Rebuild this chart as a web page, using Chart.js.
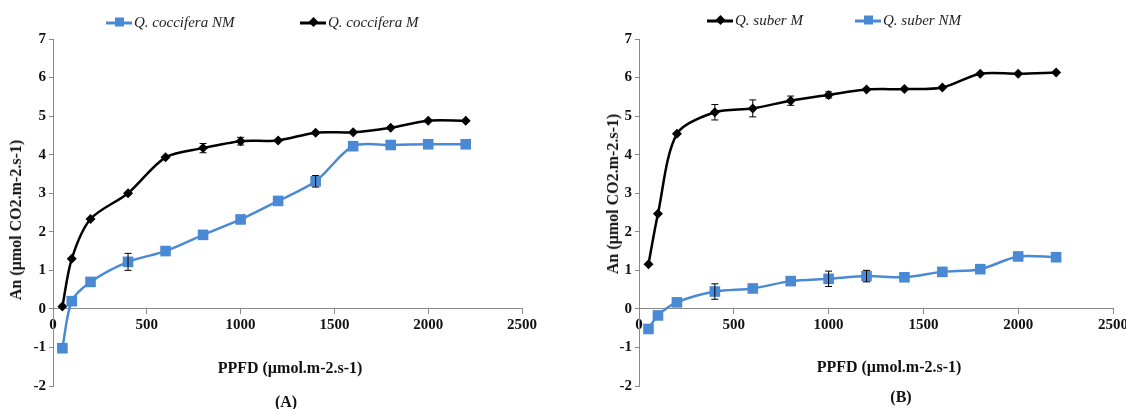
<!DOCTYPE html>
<html>
<head>
<meta charset="utf-8">
<script src="https://cdn.jsdelivr.net/npm/chart.js@4.4.1/dist/chart.umd.min.js"></script>
<style>
  html, body { margin: 0; padding: 0; background: #fff; overflow: hidden; }
  body { width: 1126px; height: 409px; position: relative; font-family: "Liberation Serif", serif; }
  .plot { position: absolute; top: 0; height: 409px; }
  #chartA { left: 0; width: 563px; }
  #chartB { left: 563px; width: 572px; }
  .txt { position: absolute; white-space: nowrap; color: #111; font-weight: bold; font-size: 16px; transform: translate(-50%, -50%); }
  .ytitle { transform: translate(-50%, -50%) rotate(-90deg); }
  .legend-item { position: absolute; display: flex; align-items: center; font-style: italic; font-size: 15px; color: #222; transform: translateY(-50%); }
  .swatch { position: relative; width: 26px; height: 12px; margin-right: 2px; }
  .swatch .ln { position: absolute; left: 0; right: 0; top: 5px; height: 3px; }
  .swatch .mk { position: absolute; left: 50%; top: 50%; }
  .mk.sq { width: 9px; height: 9px; margin: -4.5px 0 0 -4.5px; }
  .mk.dm { width: 7px; height: 7px; margin: -3.5px 0 0 -3.5px; transform: rotate(45deg); }
</style>
</head>
<body>
<div class="plot" id="chartA"><canvas id="canvasA"></canvas></div>
<div class="plot" id="chartB"><canvas id="canvasB"></canvas></div>

<div class="legend-item" style="left:106px; top:22px;"><span class="swatch"><span class="ln" style="background:#4a89d4"></span><span class="mk sq" style="background:#4a89d4"></span></span>Q. coccifera NM</div>
<div class="legend-item" style="left:300px; top:22px;"><span class="swatch"><span class="ln" style="background:#000"></span><span class="mk dm" style="background:#000"></span></span>Q. coccifera M</div>
<div class="legend-item" style="left:707px; top:20px;"><span class="swatch"><span class="ln" style="background:#000"></span><span class="mk dm" style="background:#000"></span></span>Q. suber M</div>
<div class="legend-item" style="left:855px; top:20px;"><span class="swatch"><span class="ln" style="background:#4a89d4"></span><span class="mk sq" style="background:#4a89d4"></span></span>Q. suber NM</div>

<div class="txt ytitle" style="left:16px; top:220px;">An (µmol CO2.m-2.s-1)</div>
<div class="txt ytitle" style="left:613px; top:194px;">An (µmol CO2.m-2.s-1)</div>
<div class="txt" style="left:290px; top:368px;">PPFD (µmol.m-2.s-1)</div>
<div class="txt" style="left:889px; top:367px;">PPFD (µmol.m-2.s-1)</div>
<div class="txt" style="left:286px; top:402px;">(A)</div>
<div class="txt" style="left:901px; top:397px;">(B)</div>

<script>
// PPFD levels (same for every curve)
var ppfd = [50, 100, 200, 400, 600, 800, 1000, 1200, 1400, 1600, 1800, 2000, 2200];

// (A) Q. coccifera
var coccifera_nm = [-1.02, 0.2, 0.7, 1.22, 1.5, 1.92, 2.32, 2.8, 3.31, 4.22, 4.25, 4.27, 4.27];
var coccifera_nm_err = [0, 0, 0, 0.22, 0, 0, 0, 0, 0.15, 0, 0, 0, 0];
var coccifera_m = [0.06, 1.3, 2.33, 3.0, 3.93, 4.17, 4.35, 4.37, 4.57, 4.58, 4.7, 4.88, 4.88];
var coccifera_m_err = [0, 0, 0, 0, 0, 0.12, 0.1, 0, 0, 0, 0, 0, 0];

// (B) Q. suber
var suber_m = [1.16, 2.47, 4.54, 5.1, 5.2, 5.4, 5.55, 5.69, 5.7, 5.74, 6.1, 6.1, 6.13];
var suber_m_err = [0, 0, 0, 0.2, 0.22, 0.12, 0.08, 0, 0, 0, 0, 0, 0];
var suber_nm = [-0.52, -0.17, 0.17, 0.45, 0.53, 0.72, 0.78, 0.85, 0.82, 0.96, 1.03, 1.36, 1.34];
var suber_nm_err = [0, 0, 0, 0.2, 0, 0, 0.2, 0.15, 0, 0, 0, 0, 0];

var x_ticks = [0, 500, 1000, 1500, 2000, 2500];
var y_ticks = [-2, -1, 0, 1, 2, 3, 4, 5, 6, 7];

var BLUE = "#4a89d4";
var AXIS = "#8a8a8a";

function to_points(values) {
  return ppfd.map((x, i) => ({ x: x, y: values[i] }));
}

function make_dataset(label, values, errors, kind) {
  var blue = kind === "NM";
  return {
    label: label,
    data: to_points(values),
    errors: errors,
    borderColor: blue ? BLUE : "#000",
    backgroundColor: blue ? BLUE : "#000",
    borderWidth: 2.5,
    pointStyle: blue ? "rect" : "rectRot",
    pointRadius: blue ? 7.5 : 5,
    pointBorderWidth: 0,
    tension: 0.3,
    fill: false,
    clip: false,
  };
}

// vertical error bars with caps, positioned through the chart scales
var errorBars = {
  id: "errorBars",
  afterDatasetsDraw(chart) {
    const ctx = chart.ctx;
    const xs = chart.scales.x;
    const ys = chart.scales.y;
    ctx.save();
    ctx.strokeStyle = "#000";
    ctx.lineWidth = 1;
    chart.data.datasets.forEach((ds) => {
      ds.data.forEach((p, i) => {
        const e = ds.errors[i];
        if (!e) return;
        const px = xs.getPixelForValue(p.x);
        const top = ys.getPixelForValue(p.y + e);
        const bot = ys.getPixelForValue(p.y - e);
        ctx.beginPath();
        ctx.moveTo(px, top);
        ctx.lineTo(px, bot);
        ctx.moveTo(px - 3.5, top);
        ctx.lineTo(px + 3.5, top);
        ctx.moveTo(px - 3.5, bot);
        ctx.lineTo(px + 3.5, bot);
        ctx.stroke();
      });
    });
    ctx.restore();
  },
};

function make_chart(canvas_id, datasets, pad_left, pad_right) {
  var tick_font = { family: "Liberation Serif", size: 15, weight: "bold" };
  return new Chart(document.getElementById(canvas_id), {
    type: "line",
    data: { datasets: datasets },
    options: {
      responsive: true,
      maintainAspectRatio: false,
      animation: false,
      layout: { padding: { top: 39, bottom: 23, left: pad_left, right: pad_right } },
      plugins: { legend: { display: false }, tooltip: { enabled: false } },
      scales: {
        x: {
          type: "linear",
          position: { y: 0 },
          min: 0,
          max: 2500,
          afterBuildTicks: (s) => { s.ticks = x_ticks.map((v) => ({ value: v })); },
          afterFit: (s) => { s.height = 0; },
          ticks: { font: tick_font, color: "#111", padding: 2, callback: (v) => String(v) },
          grid: { drawOnChartArea: false, drawTicks: true, tickLength: 5, color: AXIS },
          border: { color: AXIS, width: 1 },
        },
        y: {
          type: "linear",
          min: -2,
          max: 7,
          afterBuildTicks: (s) => { s.ticks = y_ticks.map((v) => ({ value: v })); },
          afterFit: (s) => { s.width = 30; },
          ticks: { font: tick_font, color: "#111", padding: 3, callback: (v) => String(v) },
          grid: { drawOnChartArea: false, drawTicks: true, tickLength: 4, color: AXIS },
          border: { color: AXIS, width: 1 },
        },
      },
    },
    plugins: [errorBars],
  });
}

make_chart("canvasA", [
  make_dataset("Q. coccifera NM", coccifera_nm, coccifera_nm_err, "NM"),
  make_dataset("Q. coccifera M", coccifera_m, coccifera_m_err, "M"),
], 23, 41);

make_chart("canvasB", [
  make_dataset("Q. suber NM", suber_nm, suber_nm_err, "NM"),
  make_dataset("Q. suber M", suber_m, suber_m_err, "M"),
], 46, 22);
</script>
</body>
</html>
